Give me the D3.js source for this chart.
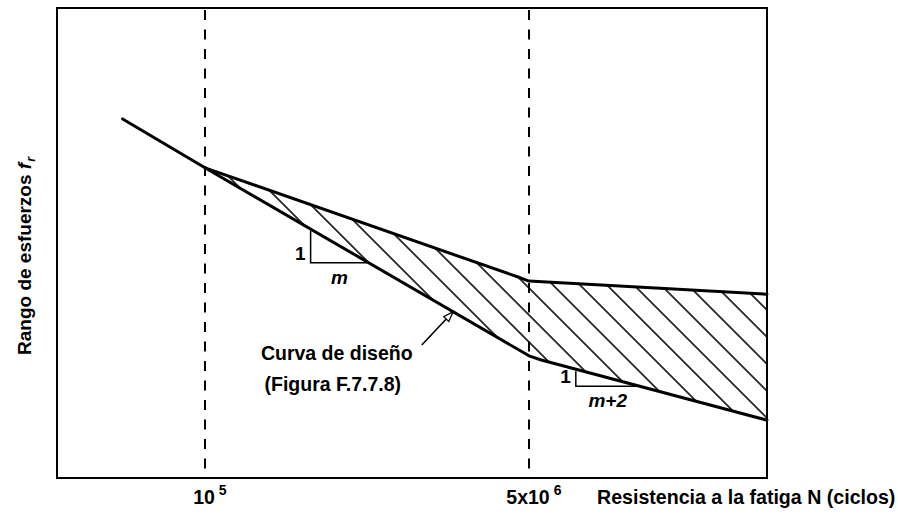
<!DOCTYPE html>
<html><head><meta charset="utf-8">
<script src="https://cdn.jsdelivr.net/npm/d3@7"></script>
<style>
body{margin:0;background:#fff}
svg{display:block}
text{font-family:"Liberation Sans",Arial,Helvetica,sans-serif;font-weight:bold;fill:#000}
</style></head><body>
<svg id="chart" width="898" height="521"></svg>
<script>
// Fatigue (S-N) diagram: cycles on a log axis, stress range in relative units
const lowerN = [3.7e4, 1e5, 5e6, 5.8e6, 8.85e7];
const lowerS = [76.4, 66.0, 26.0, 25.1, 12.3];
const upperN = [1e5, 4.5e6, 5e6, 8.85e7];
const upperS = [66.0, 42.6, 41.9, 39.1];
const markN = [1e5, 5e6];
const markLabels = [["10", "5"], ["5x10", "6"]];
const slopeN = [[3.58e5, 7.2e5], [8.8e6, 1.9e7]];
const slopeLabels = [["1", "m"], ["1", "m+2"]];
const arrowTipN = 2.0e6;
const arrowTail = [1.37e6, 28.3];
const noteLines = ["Curva de diseño", "(Figura F.7.7.8)"];
const xTitle = "Resistencia a la fatiga N (ciclos)";
const yTitle = "Rango de esfuerzos ";

const svg = d3.select("#chart");
const x = d3.scaleLog().domain([1.675e4, 8.85e7]).range([57, 767]);
const y = d3.scaleLinear().domain([0, 100]).range([478, 8]);

const lowerPts = lowerN.map((n, i) => [n, lowerS[i]]);
const upperPts = upperN.map((n, i) => [n, upperS[i]]);
const line = d3.line().x(d => x(d[0])).y(d => y(d[1]));

// stress on a piecewise curve at a given cycle count (linear in log N)
function curveAt(pts, n) {
  for (let i = 0; i < pts.length - 1; i++) {
    const a = pts[i], b = pts[i + 1];
    if (n >= a[0] && n <= b[0]) {
      const t = (Math.log(n) - Math.log(a[0])) / (Math.log(b[0]) - Math.log(a[0]));
      return a[1] + t * (b[1] - a[1]);
    }
  }
  return pts[pts.length - 1][1];
}

// diagonal hatch
const defs = svg.append("defs");
const w = 19.09;
defs.append("pattern").attr("id", "hatch")
  .attr("patternUnits", "userSpaceOnUse")
  .attr("width", w).attr("height", w)
  .attr("patternTransform", "translate(11.5,0) rotate(-45)")
  .append("line")
  .attr("x1", w / 2).attr("x2", w / 2).attr("y1", -1).attr("y2", w + 1)
  .attr("stroke", "#000").attr("stroke-width", 1.6);

const band = upperPts.concat(lowerPts.filter(d => d[0] >= upperN[0]).reverse());
svg.append("path")
  .attr("d", line(band) + "Z")
  .attr("fill", "url(#hatch)").attr("stroke", "none");

// frame
const [x0, x1] = x.range(), [yb, yt] = y.range();
svg.append("rect")
  .attr("x", x0).attr("y", yt).attr("width", x1 - x0).attr("height", yb - yt)
  .attr("fill", "none").attr("stroke", "#000").attr("stroke-width", 2);

// dashed reference lines
svg.selectAll("line.ref").data(markN).join("line")
  .attr("class", "ref")
  .attr("x1", d => x(d)).attr("x2", d => x(d))
  .attr("y1", yt + 2).attr("y2", yb)
  .attr("stroke", "#000").attr("stroke-width", 2)
  .attr("stroke-dasharray", "10,9.5");

// curves
[upperPts, lowerPts].forEach(p => {
  svg.append("path").attr("d", line(p))
    .attr("fill", "none").attr("stroke", "#000")
    .attr("stroke-width", 3).attr("stroke-linejoin", "round").attr("stroke-linecap", "round");
});

// slope triangles on the design curve
slopeN.forEach((pair, i) => {
  const xa = x(pair[0]), xb = x(pair[1]);
  const ya = y(curveAt(lowerPts, pair[0])), yb2 = y(curveAt(lowerPts, pair[1]));
  svg.append("path")
    .attr("d", `M${xa},${ya + 2}L${xa},${yb2}L${xb},${yb2}`)
    .attr("fill", "none").attr("stroke", "#000").attr("stroke-width", 1.5);
  svg.append("text").attr("x", xa - 5).attr("y", yb2 - 3)
    .attr("text-anchor", "end").attr("font-size", 19).text(slopeLabels[i][0]);
  svg.append("text").attr("x", (xa + xb) / 2).attr("y", yb2 + 21)
    .attr("text-anchor", "middle").attr("font-size", 19).attr("font-style", "italic")
    .text(slopeLabels[i][1]);
});

// leader arrow to the design curve
const tip = [x(arrowTipN), y(curveAt(lowerPts, arrowTipN))];
const tail = [x(arrowTail[0]), y(arrowTail[1])];
const ang = Math.atan2(tip[1] - tail[1], tip[0] - tail[0]);
const hl = 10, hw = 3.5;
const bx = tip[0] - hl * Math.cos(ang), by = tip[1] - hl * Math.sin(ang);
svg.append("line")
  .attr("x1", tail[0]).attr("y1", tail[1]).attr("x2", bx).attr("y2", by)
  .attr("stroke", "#000").attr("stroke-width", 1.6);
svg.append("path")
  .attr("d", `M${tip[0]},${tip[1]}L${bx - hw * Math.sin(ang)},${by + hw * Math.cos(ang)}L${bx + hw * Math.sin(ang)},${by - hw * Math.cos(ang)}Z`)
  .attr("fill", "#fff").attr("stroke", "#000").attr("stroke-width", 1.3);

svg.append("text").attr("x", tail[0] - 85).attr("y", tail[1] + 15)
  .attr("text-anchor", "middle").attr("font-size", 19.5).text(noteLines[0]);
svg.append("text").attr("x", tail[0] - 89).attr("y", tail[1] + 46)
  .attr("text-anchor", "middle").attr("font-size", 19.5).text(noteLines[1]);

// cycle labels with exponents
markN.forEach((n, i) => {
  const base = svg.append("text").attr("x", x(n) - 1).attr("y", 504)
    .attr("text-anchor", "middle").attr("font-size", 19.5).text(markLabels[i][0]);
  const bw = base.node().getComputedTextLength();
  svg.append("text").attr("x", x(n) - 1 + bw / 2 + 4).attr("y", 495)
    .attr("font-size", 14).text(markLabels[i][1]);
});

// axis titles
svg.append("text").attr("x", 597).attr("y", 504)
  .attr("font-size", 19.6).text(xTitle);

const yt2 = svg.append("text")
  .attr("transform", "translate(31,355) rotate(-90)")
  .attr("font-size", 19);
yt2.append("tspan").text(yTitle);
yt2.append("tspan").attr("font-style", "italic").text("f");
yt2.append("tspan").attr("font-style", "italic").attr("font-size", 12.5)
  .attr("dy", 4).attr("dx", 1).text("r");
</script>
</body></html>
